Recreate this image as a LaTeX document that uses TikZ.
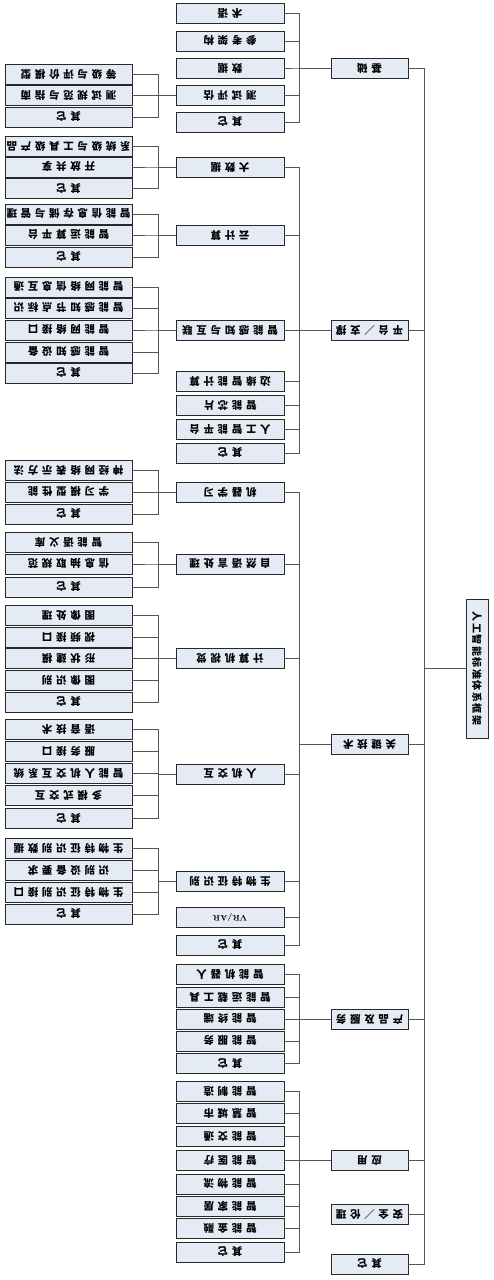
\documentclass[tikz,border=0pt]{standalone}
\usepackage{fontspec}
\usepackage{graphicx}
\usepackage{pgf,tikz}
\newfontfamily\cjk[LetterSpace=35]{Noto Sans CJK SC}
\newfontfamily\cjkraiz[LetterSpace=15]{Noto Sans CJK SC}
\newcommand{\girar}[1]{\rotatebox{180}{#1}}
\usetikzlibrary{positioning}
\definecolor{fondocaja}{RGB}{229,235,245}
\definecolor{bordecaja}{RGB}{40,40,40}
\definecolor{linea}{RGB}{85,85,85}
\tikzstyle{caja} = [draw=bordecaja, fill=fondocaja, line width=0.8pt, rectangle, inner sep=0pt, outer sep=0pt, minimum height=20, font={\cjk\bfseries\fontsize{10.5}{12}\selectfont}]
\tikzstyle{hoja} = [caja, minimum width=127]
\tikzstyle{rama} = [caja, minimum width=108]
\tikzstyle{nivel} = [caja, minimum width=77]
\tikzstyle{raiz} = [caja, minimum width=22, minimum height=139, font={\cjkraiz\bfseries\fontsize{10}{12}\selectfont}]
\tikzstyle{enlace} = [draw=linea, line width=0.8pt]

\begin{document}
\begin{tikzpicture}[x=1pt, y=-1pt]
	\useasboundingbox (0,0) rectangle (494,1280);
	% raiz
	\node [raiz] (raiz) at (477,668.5) {\rotatebox{-90}{人工智能标准体系框架}};
	% primer nivel
	\node [nivel] (base) at (369.5,68) {\girar{基础}};
	\node [nivel] (plat) at (369.5,330.5) {\girar{平台／支撑}};
	\node [nivel] (clave) at (369.5,744) {\girar{关键技术}};
	\node [nivel] (prod) at (369.5,1019.5) {\girar{产品及服务}};
	\node [nivel] (apli) at (369.5,1160.5) {\girar{应用}};
	\node [nivel] (segu) at (369.5,1214) {\girar{安全／伦理}};
	\node [nivel] (otro) at (369.5,1264) {\girar{其它}};
	% base
	\node [rama] (termino) at (230,13) {\girar{术语}};
	\node [rama] (arq) at (230,41) {\girar{参考架构}};
	\node [rama] (datos) at (230,68) {\girar{数据}};
	\node [rama] (prueba) at (230,95.5) {\girar{测试评估}};
	\node [rama] (otroBase) at (230,122) {\girar{其它}};
	\node [hoja] (prueba1) at (68.5,74) {\girar{等级与评价模型}};
	\node [hoja] (prueba2) at (68.5,95.5) {\girar{测试规范与指南}};
	\node [hoja] (prueba3) at (68.5,117) {\girar{其它}};
	% plataforma
	\node [rama] (bigdata) at (230,167) {\girar{大数据}};
	\node [rama] (nube) at (230,235) {\girar{云计算}};
	\node [rama] (percep) at (230,330) {\girar{智能感知与互联}};
	\node [rama] (borde) at (230,381.5) {\girar{边缘智能计算}};
	\node [rama] (chip) at (230,405.5) {\girar{智能芯片}};
	\node [rama] (aiplat) at (230,429.5) {\girar{人工智能平台}};
	\node [rama] (otroPlat) at (230,453) {\girar{其它}};
	\node [hoja] (bigdata1) at (68.5,146) {\girar{系统级与工具级产品}};
	\node [hoja] (bigdata2) at (68.5,167) {\girar{开放共享}};
	\node [hoja] (bigdata3) at (68.5,188.5) {\girar{其它}};
	\node [hoja] (nube1) at (68.5,214) {\girar{智能信息存储与管理}};
	\node [hoja] (nube2) at (68.5,235) {\girar{智能运算平台}};
	\node [hoja] (nube3) at (68.5,257) {\girar{其它}};
	\node [hoja] (percep1) at (68.5,287) {\girar{智能网络信息互通}};
	\node [hoja] (percep2) at (68.5,308) {\girar{智能感知节点标识}};
	\node [hoja] (percep3) at (68.5,330) {\girar{智能网络接口}};
	\node [hoja] (percep4) at (68.5,352) {\girar{智能感知设备}};
	\node [hoja] (percep5) at (68.5,373) {\girar{其它}};
	% tecnologias clave
	\node [rama] (ml) at (230,492.5) {\girar{机器学习}};
	\node [rama] (nlp) at (230,564) {\girar{自然语言处理}};
	\node [rama] (vision) at (230,658.5) {\girar{计算机视觉}};
	\node [rama] (hci) at (230,774) {\girar{人机交互}};
	\node [rama] (bio) at (230,881) {\girar{生物特征识别}};
	\node [rama] (vr) at (230,917.5) {\girar{\normalfont\bfseries\fontsize{8}{9}\selectfont VR/AR}};
	\node [rama] (otroClave) at (230,945) {\girar{其它}};
	\node [hoja] (ml1) at (68.5,470.5) {\girar{神经网络表示方法}};
	\node [hoja] (ml2) at (68.5,492) {\girar{学习模型性能}};
	\node [hoja] (ml3) at (68.5,514) {\girar{其它}};
	\node [hoja] (nlp1) at (68.5,542.5) {\girar{智能语义库}};
	\node [hoja] (nlp2) at (68.5,564) {\girar{信息抽取规范}};
	\node [hoja] (nlp3) at (68.5,587) {\girar{其它}};
	\node [hoja] (vision1) at (68.5,615.5) {\girar{图像处理}};
	\node [hoja] (vision2) at (68.5,637) {\girar{视频接口}};
	\node [hoja] (vision3) at (68.5,658.5) {\girar{形状建模}};
	\node [hoja] (vision4) at (68.5,680.5) {\girar{图像识别}};
	\node [hoja] (vision5) at (68.5,702) {\girar{其它}};
	\node [hoja] (hci1) at (68.5,729.5) {\girar{语音技术}};
	\node [hoja] (hci2) at (68.5,751.5) {\girar{服务接口}};
	\node [hoja] (hci3) at (68.5,773.5) {\girar{智能人机交互系统}};
	\node [hoja] (hci4) at (68.5,795.5) {\girar{多模式交互}};
	\node [hoja] (hci5) at (68.5,818.5) {\girar{其它}};
	\node [hoja] (bio1) at (68.5,848.5) {\girar{生物特征识别数据}};
	\node [hoja] (bio2) at (68.5,870.5) {\girar{识别设备要求}};
	\node [hoja] (bio3) at (68.5,892.5) {\girar{生物特征识别接口}};
	\node [hoja] (bio4) at (68.5,914) {\girar{其它}};
	% productos y servicios
	\node [rama] (prod1) at (230,974.5) {\girar{智能机器人}};
	\node [rama] (prod2) at (230,997.5) {\girar{智能运载工具}};
	\node [rama] (prod3) at (230,1019) {\girar{智能终端}};
	\node [rama] (prod4) at (230,1041) {\girar{智能服务}};
	\node [rama] (prod5) at (230,1063.5) {\girar{其它}};
	% aplicaciones
	\node [rama] (apli1) at (230,1091.5) {\girar{智能制造}};
	\node [rama] (apli2) at (230,1113.5) {\girar{智慧城市}};
	\node [rama] (apli3) at (230,1136.5) {\girar{智能交通}};
	\node [rama] (apli4) at (230,1160.5) {\girar{智能医疗}};
	\node [rama] (apli5) at (230,1184) {\girar{智能物流}};
	\node [rama] (apli6) at (230,1206.5) {\girar{智能家居}};
	\node [rama] (apli7) at (230,1228.5) {\girar{智能金融}};
	\node [rama] (apli8) at (230,1252) {\girar{其它}};
	% enlaces raiz
	\draw[enlace] (raiz.west) -- ++(-42,0) |- (base.east);
	\draw[enlace] (raiz.west) -- ++(-42,0) |- (plat.east);
	\draw[enlace] (raiz.west) -- ++(-42,0) |- (clave.east);
	\draw[enlace] (raiz.west) -- ++(-42,0) |- (prod.east);
	\draw[enlace] (raiz.west) -- ++(-42,0) |- (apli.east);
	\draw[enlace] (raiz.west) -- ++(-42,0) |- (segu.east);
	\draw[enlace] (raiz.west) -- ++(-42,0) |- (otro.east);
	% enlaces base
	\draw[enlace] (base.west) -- ++(-32,0) |- (termino.east);
	\draw[enlace] (base.west) -- ++(-32,0) |- (arq.east);
	\draw[enlace] (base.west) -- ++(-32,0) |- (datos.east);
	\draw[enlace] (base.west) -- ++(-32,0) |- (prueba.east);
	\draw[enlace] (base.west) -- ++(-32,0) |- (otroBase.east);
	\draw[enlace] (prueba.west) -- ++(-18,0) |- (prueba1.east);
	\draw[enlace] (prueba.west) -- ++(-18,0) |- (prueba2.east);
	\draw[enlace] (prueba.west) -- ++(-18,0) |- (prueba3.east);
	% enlaces plataforma
	\draw[enlace] (plat.west) -- ++(-32,0) |- (bigdata.east);
	\draw[enlace] (plat.west) -- ++(-32,0) |- (nube.east);
	\draw[enlace] (plat.west) -- ++(-32,0) |- (percep.east);
	\draw[enlace] (plat.west) -- ++(-32,0) |- (borde.east);
	\draw[enlace] (plat.west) -- ++(-32,0) |- (chip.east);
	\draw[enlace] (plat.west) -- ++(-32,0) |- (aiplat.east);
	\draw[enlace] (plat.west) -- ++(-32,0) |- (otroPlat.east);
	\draw[enlace] (bigdata.west) -- ++(-18,0) |- (bigdata1.east);
	\draw[enlace] (bigdata.west) -- ++(-18,0) |- (bigdata2.east);
	\draw[enlace] (bigdata.west) -- ++(-18,0) |- (bigdata3.east);
	\draw[enlace] (nube.west) -- ++(-18,0) |- (nube1.east);
	\draw[enlace] (nube.west) -- ++(-18,0) |- (nube2.east);
	\draw[enlace] (nube.west) -- ++(-18,0) |- (nube3.east);
	\draw[enlace] (percep.west) -- ++(-18,0) |- (percep1.east);
	\draw[enlace] (percep.west) -- ++(-18,0) |- (percep2.east);
	\draw[enlace] (percep.west) -- ++(-18,0) |- (percep3.east);
	\draw[enlace] (percep.west) -- ++(-18,0) |- (percep4.east);
	\draw[enlace] (percep.west) -- ++(-18,0) |- (percep5.east);
	% enlaces tecnologias clave
	\draw[enlace] (clave.west) -- ++(-32,0) |- (ml.east);
	\draw[enlace] (clave.west) -- ++(-32,0) |- (nlp.east);
	\draw[enlace] (clave.west) -- ++(-32,0) |- (vision.east);
	\draw[enlace] (clave.west) -- ++(-32,0) |- (hci.east);
	\draw[enlace] (clave.west) -- ++(-32,0) |- (bio.east);
	\draw[enlace] (clave.west) -- ++(-32,0) |- (vr.east);
	\draw[enlace] (clave.west) -- ++(-32,0) |- (otroClave.east);
	\draw[enlace] (ml.west) -- ++(-18,0) |- (ml1.east);
	\draw[enlace] (ml.west) -- ++(-18,0) |- (ml2.east);
	\draw[enlace] (ml.west) -- ++(-18,0) |- (ml3.east);
	\draw[enlace] (nlp.west) -- ++(-18,0) |- (nlp1.east);
	\draw[enlace] (nlp.west) -- ++(-18,0) |- (nlp2.east);
	\draw[enlace] (nlp.west) -- ++(-18,0) |- (nlp3.east);
	\draw[enlace] (vision.west) -- ++(-18,0) |- (vision1.east);
	\draw[enlace] (vision.west) -- ++(-18,0) |- (vision2.east);
	\draw[enlace] (vision.west) -- ++(-18,0) |- (vision3.east);
	\draw[enlace] (vision.west) -- ++(-18,0) |- (vision4.east);
	\draw[enlace] (vision.west) -- ++(-18,0) |- (vision5.east);
	\draw[enlace] (hci.west) -- ++(-18,0) |- (hci1.east);
	\draw[enlace] (hci.west) -- ++(-18,0) |- (hci2.east);
	\draw[enlace] (hci.west) -- ++(-18,0) |- (hci3.east);
	\draw[enlace] (hci.west) -- ++(-18,0) |- (hci4.east);
	\draw[enlace] (hci.west) -- ++(-18,0) |- (hci5.east);
	\draw[enlace] (bio.west) -- ++(-18,0) |- (bio1.east);
	\draw[enlace] (bio.west) -- ++(-18,0) |- (bio2.east);
	\draw[enlace] (bio.west) -- ++(-18,0) |- (bio3.east);
	\draw[enlace] (bio.west) -- ++(-18,0) |- (bio4.east);
	% enlaces productos y aplicaciones
	\draw[enlace] (prod.west) -- ++(-32,0) |- (prod1.east);
	\draw[enlace] (prod.west) -- ++(-32,0) |- (prod2.east);
	\draw[enlace] (prod.west) -- ++(-32,0) |- (prod3.east);
	\draw[enlace] (prod.west) -- ++(-32,0) |- (prod4.east);
	\draw[enlace] (prod.west) -- ++(-32,0) |- (prod5.east);
	\draw[enlace] (apli.west) -- ++(-32,0) |- (apli1.east);
	\draw[enlace] (apli.west) -- ++(-32,0) |- (apli2.east);
	\draw[enlace] (apli.west) -- ++(-32,0) |- (apli3.east);
	\draw[enlace] (apli.west) -- ++(-32,0) |- (apli4.east);
	\draw[enlace] (apli.west) -- ++(-32,0) |- (apli5.east);
	\draw[enlace] (apli.west) -- ++(-32,0) |- (apli6.east);
	\draw[enlace] (apli.west) -- ++(-32,0) |- (apli7.east);
	\draw[enlace] (apli.west) -- ++(-32,0) |- (apli8.east);
\end{tikzpicture}
\end{document}
